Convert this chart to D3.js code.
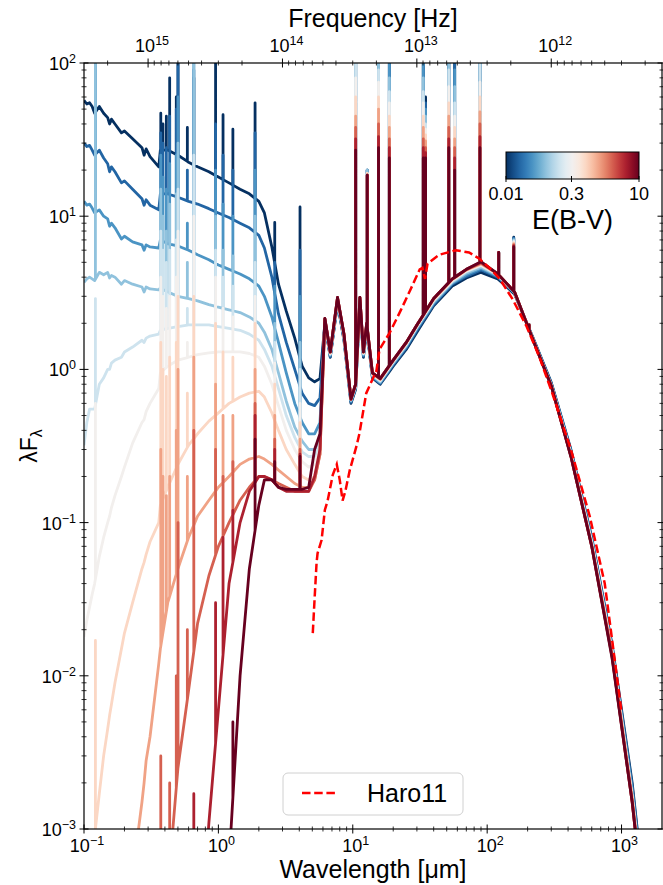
<!DOCTYPE html>
<html><head><meta charset="utf-8">
<script src="https://cdn.jsdelivr.net/npm/d3@7"></script>
<style>
body{margin:0;background:#fff}
svg{font-family:"Liberation Sans",Arial,Helvetica,sans-serif}
</style></head>
<body><svg id="chart" width="663" height="885"></svg>
<script>
// ---------------- data ----------------
const ebvValues = [0.01, 0.02, 0.04, 0.08, 0.16, 0.32, 0.63, 1.26, 2.5, 5, 10];

const wavelengths = [0.1,0.105,0.11,0.115,0.12,0.13,0.14,0.15,0.155,0.16,
  0.17,0.19,0.2,0.23,0.27,0.28,0.29,0.31,0.36,0.37,
  0.42,0.5,
  0.6,0.7,0.85,1.0,1.2,1.45,
  1.7,2.0,2.2,2.5,2.8,3.2,3.7,4.2,4.7,5.2,
  5.7,6.2,6.8,7.7,8.6,9.7,10.5,11.3,12,12.7,
  14,16,20,25,30,40,55,70,90,120,
  160,220,300,420,600,850,1200,1600,2000];

const fluxE0 = [57,54,55,52,47,52,47,44,40,43,40,35,36,32,28,25,27.5,24.5,21,27,27,25,
  22.5,21,19.5,18,16.5,15,
  14,12.5,10.5,6.3,3.6,2.4,1.6,1.05,0.88,0.83,
  0.87,2.0,1.2,2.7,1.55,0.6,0.74,2.7,1.2,1.85,
  0.88,0.8,1.05,1.35,1.75,2.6,3.5,3.95,4.3,3.9,
  3.1,1.6,0.82,0.3,0.08,0.016,0.002,0.0002,0.00004];
const fluxE1 = [30,28.5,29,27,25,27,24,22,19.5,21,19.5,16.5,17,15,13,11.8,12.8,11.8,11,14,14,13.3,
  12.5,12,11.2,10.5,9.8,9,
  8.4,7.5,6.2,4.0,2.3,1.5,1.0,0.7,0.6,0.58,
  0.65,2.02,1.21,2.75,1.58,0.61,0.75,2.75,1.22,1.88,
  0.89,0.81,1.07,1.38,1.8,2.65,3.6,4.05,4.45,4.0,
  3.15,1.58,0.81,0.295,0.078,0.0155,0.0019,0.00019,0.00004];
const fluxE2 = [12.5,11.8,12,11.3,10.5,11,10,9.6,8.6,9.0,8.4,7.1,7.4,6.8,6.5,6.0,6.5,6.3,6.2,7.0,6.6,6.4,
  6.0,5.6,5.2,4.8,4.5,4.2,
  3.9,3.5,3.0,2.2,1.5,0.95,0.6,0.45,0.38,0.38,
  0.45,2.05,1.23,2.8,1.6,0.62,0.76,2.8,1.24,1.9,
  0.9,0.82,1.09,1.41,1.84,2.7,3.65,4.15,4.55,4.05,
  3.17,1.57,0.8,0.29,0.077,0.015,0.0018,0.00018,0.00004];
const fluxE3 = [3.7,3.9,4.0,3.9,3.8,4.3,4.15,4.3,3.95,4.1,4.0,3.6,3.8,3.6,3.45,3.2,3.45,3.35,3.3,3.4,3.2,3.0,
  2.9,2.8,2.65,2.55,2.45,2.35,
  2.2,2.0,1.75,1.35,0.95,0.62,0.42,0.34,0.3,0.3,
  0.35,2.07,1.25,2.85,1.62,0.63,0.77,2.85,1.26,1.93,
  0.91,0.83,1.1,1.43,1.87,2.75,3.7,4.25,4.65,4.1,
  3.18,1.56,0.79,0.285,0.075,0.0148,0.0017,0.00017,0.00003];
const fluxE4 = [0.32,0.45,0.55,0.55,0.55,0.8,0.88,1.0,1.0,1.1,1.15,1.2,1.3,1.4,1.55,1.5,1.6,1.65,1.7,1.8,1.85,1.9,
  1.95,1.95,1.95,1.9,1.85,1.8,
  1.7,1.55,1.35,1.05,0.75,0.5,0.36,0.29,0.27,0.27,
  0.32,2.09,1.26,2.88,1.64,0.63,0.78,2.88,1.27,1.95,
  0.92,0.84,1.12,1.45,1.9,2.8,3.75,4.35,4.75,4.15,
  3.19,1.55,0.785,0.28,0.074,0.0145,0.0016,0.00016,0.00003];
const fluxE5 = [0.018,0.023,0.028,0.034,0.04,0.06,0.08,0.1,0.11,0.125,0.15,0.2,0.23,0.33,0.45,0.47,0.53,0.6,0.75,0.95,1.05,1.15,
  1.2,1.25,1.28,1.3,1.3,1.3,
  1.27,1.2,1.05,0.8,0.58,0.4,0.3,0.25,0.23,0.24,
  0.3,2.1,1.27,2.9,1.66,0.64,0.79,2.9,1.28,1.97,
  0.93,0.85,1.13,1.47,1.92,2.83,3.8,4.4,4.8,4.2,
  3.2,1.55,0.78,0.278,0.073,0.0142,0.0016,0.00016,0.00003];
const fluxE6 = [0.00001,0.00003,0.0001,0.0003,0.0009,0.0017,0.003,0.0045,0.0055,0.0065,0.009,0.015,0.019,0.03,0.05,0.055,0.062,0.075,0.1,0.13,0.17,0.24,
  0.32,0.38,0.46,0.52,0.6,0.66,
  0.7,0.72,0.66,0.52,0.4,0.3,0.24,0.2,0.19,0.2,
  0.28,2.12,1.28,2.92,1.67,0.64,0.79,2.92,1.29,1.98,
  0.94,0.86,1.14,1.48,1.93,2.86,3.85,4.45,4.85,4.2,
  3.2,1.55,0.78,0.275,0.072,0.014,0.0016,0.00016,0.00003];
const fluxE7 = [0.000001,0.000001,0.000001,0.000001,0.000001,0.000001,0.000001,0.00001,0.000015,0.00002,0.00005,0.00015,0.0002,0.0005,0.0015,0.002,0.0028,0.004,0.012,0.015,0.03,0.05,
  0.08,0.11,0.14,0.17,0.2,0.24,
  0.26,0.27,0.26,0.24,0.22,0.2,0.18,0.17,0.17,0.19,
  0.28,2.13,1.29,2.93,1.68,0.64,0.8,2.93,1.29,1.99,
  0.94,0.86,1.14,1.49,1.94,2.88,3.87,4.47,4.9,4.2,
  3.2,1.55,0.78,0.273,0.071,0.0138,0.0016,0.00016,0.00003];
const fluxE8 = [0.000001,0.000001,0.000001,0.000001,0.000001,0.000001,0.000001,0.000001,0.000001,0.000001,0.000001,0.000001,0.000001,0.000001,0.000001,0.000001,0.000001,0.000001,0.00005,0.0001,0.0004,0.0025,
  0.008,0.022,0.045,0.07,0.1,0.14,
  0.17,0.2,0.2,0.19,0.18,0.17,0.16,0.16,0.16,0.19,
  0.28,2.14,1.3,2.94,1.69,0.64,0.8,2.94,1.3,2.0,
  0.95,0.87,1.15,1.5,1.95,2.9,3.88,4.48,4.95,4.2,
  3.2,1.55,0.78,0.272,0.0705,0.0136,0.0015,0.00015,0.00003];
const fluxE9 = [0.000001,0.000001,0.000001,0.000001,0.000001,0.000001,0.000001,0.000001,0.000001,0.000001,0.000001,0.000001,0.000001,0.000001,0.000001,0.000001,0.000001,0.000001,0.000001,0.000001,0.000001,0.000005,
  0.00003,0.0001,0.0011,0.006,0.04,0.1,
  0.16,0.2,0.2,0.19,0.17,0.16,0.16,0.16,0.16,0.2,
  0.3,2.15,1.3,2.95,1.7,0.64,0.8,2.95,1.3,2.0,
  0.95,0.87,1.15,1.5,1.95,2.9,3.9,4.5,5.0,4.2,
  3.2,1.55,0.78,0.27,0.07,0.0133,0.0015,0.00015,0.00003];
const fluxE10 = [0.000001,0.000001,0.000001,0.000001,0.000001,0.000001,0.000001,0.000001,0.000001,0.000001,0.000001,0.000001,0.000001,0.000001,0.000001,0.000001,0.000001,0.000001,0.000001,0.000001,0.000001,0.000001,
  0.000001,0.000001,0.000001,0.000005,0.0006,0.01,
  0.05,0.13,0.19,0.19,0.17,0.165,0.165,0.165,0.17,0.3,
  0.38,2.15,1.3,2.95,1.7,0.64,0.8,2.95,1.3,2.0,
  0.95,0.87,1.15,1.5,1.95,2.9,3.9,4.5,5.05,4.2,
  3.2,1.55,0.78,0.27,0.07,0.013,0.0015,0.00015,0.00003];
const seriesFlux = [fluxE0,fluxE1,fluxE2,fluxE3,fluxE4,fluxE5,fluxE6,fluxE7,fluxE8,fluxE9,fluxE10];

// emission lines: wavelength and peak value for each E(B-V) model
const lineWavelengths = [0.1216,0.3727,0.3869,0.410,0.434,0.4861,0.5007,0.5876,0.6563,0.9531,1.083,1.282,1.875,2.626,4.05,
  10.51,12.81,15.55,18.71,33.48,34.82,51.81,57.32,88.36,121.9,157.7,205.2];
const linePeaks = [
  [90,95,110,200,2.9,0.6,0.017,null,null,null,null],
  [47,35,25,15,8,4,1.5,0.3,0.003,null,null],
  [40,30,18,10,6,3,1.0,0.2,null,null,null],
  [45,28,15,8,5,2.5,0.9,0.15,null,null,null],
  [80,45,22,12,6,3,1.2,0.2,0.002,null,null],
  [60,50,25,14,7,4,1.5,0.4,0.01,null,null],
  [150,200,60,30,15,8,3,1.0,0.1,null,null],
  [38,20,9,5,2.5,1.5,0.7,0.2,0.02,null,null],
  [80,90,100,200,25,10,3,1.2,0.4,0.0017,null],
  [150,40,20,10,6,4,2,0.8,0.3,0.03,null],
  [46,25,12,6,4,2.5,1.3,0.5,0.2,0.08,0.0005],
  [37,20,10,5.5,3.5,2.2,1.2,0.5,0.25,0.12,0.005],
  [55,35,20,10,5,3,2,1.0,0.6,0.5,0.35],
  [9.1,5,3.5,2,1.5,1.1,0.8,0.5,0.35,0.3,0.25],
  [11.5,6,3,1.5,1.0,0.6,0.45,0.35,0.3,0.28,0.27],
  [150,150,140,120,100,80,60,45,38,32,27],
  [20,20,20,20,19,19,19,18.5,18.5,18.5,18.5],
  [150,150,130,110,90,75,60,50,40,33,28],
  [150,120,100,80,65,55,45,38,32,28,24],
  [150,150,100,80,65,55,45,38,32,28,24],
  [60,55,50,45,40,37,34,31,28,26,24],
  [150,150,150,150,90,70,55,45,38,32,28],
  [150,150,90,70,55,45,38,32,28,24,20],
  [150,150,150,150,100,75,60,48,40,33,28],
  [5.8,5.8,5.8,5.8,5.8,5.8,5.8,5.8,5.8,5.8,5.8],
  [7.3,7.2,7.1,7.0,6.9,6.8,6.7,6.6,6.5,6.4,6.3],
  [1.95,1.95,1.95,1.95,1.95,1.95,1.95,1.95,1.95,1.95,1.95]
];

const haroWavelength = [5.04,5.21,5.38,5.47,5.86,6.2,6.5,7.1,7.6,8.0,8.4,8.8,9.5,10.7,11.2,12.6,15.0,15.8,18.8,22.6,26.8,31.5,33,34.5,36,44,58.6,73.3,87,104,124,155,197,245,305,420,580,750,1000];
const haroFlux = [0.019,0.033,0.055,0.063,0.077,0.121,0.139,0.205,0.24,0.19,0.139,0.16,0.22,0.32,0.38,0.70,0.98,1.35,1.73,2.4,3.3,4.5,4.6,3.9,4.9,5.6,6.0,5.8,5.3,4.6,3.9,2.86,1.9,1.2,0.70,0.3,0.11,0.04,0.0058];

const xTickValues = [0.1,1,10,100,1000];
const xTickExps = ["−1","0","1","2","3"];
const yTickValues = [1e-3,1e-2,1e-1,1,10,100];
const yTickExps = ["−3","−2","−1","0","1","2"];
const freqTickValues = [1e15,1e14,1e13,1e12];
const freqTickExps = ["15","14","13","12"];
const cbarTickValues = [0.01,0.3,10];
const cbarTickLabels = ["0.01","0.3","10"];

// ---------------- layout ----------------
const L=84, R=662, T=63, B=829;
const svg = d3.select("#chart");
const x = d3.scaleLog().domain([0.1,2000]).range([L,R]);
const y = d3.scaleLog().domain([1e-3,1e2]).range([B,T]);
const cnorm = d3.scaleLog().domain([0.01,10]).range([0,1]);
const cmap = e => d3.interpolateRdBu(1 - cnorm(e));
const C_LIGHT = 2.99792458e14; // um/s

svg.append("defs").append("clipPath").attr("id","plotclip")
  .append("rect").attr("x",L).attr("y",T).attr("width",R-L).attr("height",B-T);

const plot = svg.append("g").attr("clip-path","url(#plotclip)");

function buildPoints(i){
  const f = seriesFlux[i];
  const pts = wavelengths.map((w,j)=>({w, v:f[j], k:0}));
  lineWavelengths.forEach((lw,k)=>{
    const p = linePeaks[k][i];
    if(p==null) return;
    const j = Math.max(0, Math.min(wavelengths.length-2, d3.bisectRight(wavelengths, lw)-1));
    const t = (Math.log(lw)-Math.log(wavelengths[j]))/(Math.log(wavelengths[j+1])-Math.log(wavelengths[j]));
    const base = Math.exp(Math.log(f[j])*(1-t)+Math.log(f[j+1])*t);
    pts.push({w:lw,v:base,k:1},{w:lw,v:Math.max(p,base),k:2},{w:lw,v:base,k:3});
  });
  pts.sort((a,b)=> a.w-b.w || a.k-b.k);
  return pts;
}
const line = d3.line().x(d=>x(d.w)).y(d=>y(d.v));
seriesFlux.forEach((f,i)=>{
  plot.append("path").attr("d", line(buildPoints(i)))
    .attr("fill","none").attr("stroke", cmap(ebvValues[i]))
    .attr("stroke-width",2.8).attr("stroke-linejoin","round");
});

const haroPts = haroWavelength.map((w,j)=>({w, v:haroFlux[j]}));
plot.append("path").attr("d", line(haroPts)).attr("fill","none")
  .attr("stroke","#ff0000").attr("stroke-width",2.5).attr("stroke-dasharray","8.5,3.7");

// ---------------- axes ----------------
const ax = svg.append("g").attr("stroke","#000");
ax.append("rect").attr("x",L).attr("y",T).attr("width",R-L).attr("height",B-T)
  .attr("fill","none").attr("stroke-width",1.2);

function minorsLog(lo,hi){
  const out=[];
  for(let e=Math.floor(Math.log10(lo))-1;e<=Math.ceil(Math.log10(hi));e++){
    for(let m=2;m<=9;m++){const v=m*Math.pow(10,e); if(v>lo*1.0001 && v<hi*0.9999) out.push(v);}
  }
  return out;
}
xTickValues.forEach(v=>{
  ax.append("line").attr("x1",x(v)).attr("x2",x(v)).attr("y1",B-4.5).attr("y2",B+4.5).attr("stroke-width",1);
});
minorsLog(0.1,2000).forEach(v=>{
  ax.append("line").attr("x1",x(v)).attr("x2",x(v)).attr("y1",B-2.5).attr("y2",B+2.5).attr("stroke-width",0.8);
});
freqTickValues.forEach(nu=>{
  const px=x(C_LIGHT/nu);
  ax.append("line").attr("x1",px).attr("x2",px).attr("y1",T-4.5).attr("y2",T+4.5).attr("stroke-width",1);
});
minorsLog(C_LIGHT/2000, C_LIGHT/0.1).forEach(nu=>{
  const px=x(C_LIGHT/nu);
  ax.append("line").attr("x1",px).attr("x2",px).attr("y1",T-2.5).attr("y2",T+2.5).attr("stroke-width",0.8);
});
yTickValues.forEach(v=>{
  ax.append("line").attr("x1",L-4.5).attr("x2",L+4.5).attr("y1",y(v)).attr("y2",y(v)).attr("stroke-width",1);
  ax.append("line").attr("x1",R-4.5).attr("x2",R+4.5).attr("y1",y(v)).attr("y2",y(v)).attr("stroke-width",1);
});
minorsLog(1e-3,1e2).forEach(v=>{
  ax.append("line").attr("x1",L-2.5).attr("x2",L+2.5).attr("y1",y(v)).attr("y2",y(v)).attr("stroke-width",0.8);
  ax.append("line").attr("x1",R-2.5).attr("x2",R+2.5).attr("y1",y(v)).attr("y2",y(v)).attr("stroke-width",0.8);
});

function powLabel(g, px, py, exp, anchor){
  const t = g.append("text").attr("x",px).attr("y",py).attr("text-anchor",anchor)
    .attr("font-size",18).attr("fill","#000");
  t.append("tspan").text("10");
  t.append("tspan").attr("dy",-7).attr("font-size",12.5).text(exp);
  return t;
}
const lab = svg.append("g");
xTickValues.forEach((v,i)=> powLabel(lab, x(v)+3, 852, xTickExps[i], "middle"));
yTickValues.forEach((v,i)=> powLabel(lab, 76, y(v)+7, yTickExps[i], "end"));
freqTickValues.forEach((nu,i)=> powLabel(lab, x(C_LIGHT/nu)+4, 52, freqTickExps[i], "middle"));

svg.append("text").attr("x",373).attr("y",878).attr("text-anchor","middle")
  .attr("font-size",25).text("Wavelength [μm]");
svg.append("text").attr("x",373).attr("y",27).attr("text-anchor","middle")
  .attr("font-size",25).text("Frequency [Hz]");
const yl = svg.append("text").attr("transform","translate(37,446) rotate(-90)")
  .attr("text-anchor","middle").attr("font-size",23);
yl.append("tspan").text("λF");
yl.append("tspan").attr("dy",5).attr("font-size",16).text("λ");

// ---------------- legend ----------------
const lg = svg.append("g");
lg.append("rect").attr("x",283).attr("y",773).attr("width",180).attr("height",42).attr("rx",5)
  .attr("fill","#fff").attr("fill-opacity",0.85).attr("stroke","#d0d0d0").attr("stroke-width",1);
lg.append("line").attr("x1",302).attr("x2",338).attr("y1",793).attr("y2",793)
  .attr("stroke","#ff0000").attr("stroke-width",2.5).attr("stroke-dasharray","8.5,3.7");
lg.append("text").attr("x",367).attr("y",802).attr("font-size",25).text("Haro11");

// ---------------- colorbar ----------------
const cbX=506, cbY=152, cbW=133, cbH=27;
const grad = svg.select("defs").append("linearGradient").attr("id","cbgrad");
d3.range(0,1.0001,0.05).forEach(t=>{
  grad.append("stop").attr("offset",t).attr("stop-color", d3.interpolateRdBu(1-t));
});
svg.append("rect").attr("x",cbX).attr("y",cbY).attr("width",cbW).attr("height",cbH)
  .attr("fill","url(#cbgrad)").attr("stroke","#000").attr("stroke-width",1);
const cbx = d3.scaleLog().domain([0.01,10]).range([cbX,cbX+cbW]);
cbarTickValues.forEach((v,i)=>{
  svg.append("line").attr("x1",cbx(v)).attr("x2",cbx(v)).attr("y1",cbY+cbH-3).attr("y2",cbY+cbH+3)
    .attr("stroke","#000").attr("stroke-width",1);
  svg.append("text").attr("x",cbx(v)).attr("y",cbY+cbH+21).attr("text-anchor","middle")
    .attr("font-size",18).text(cbarTickLabels[i]);
});
svg.append("text").attr("x",cbX+cbW/2).attr("y",229).attr("text-anchor","middle")
  .attr("font-size",27).text("E(B-V)");
</script></body></html>
